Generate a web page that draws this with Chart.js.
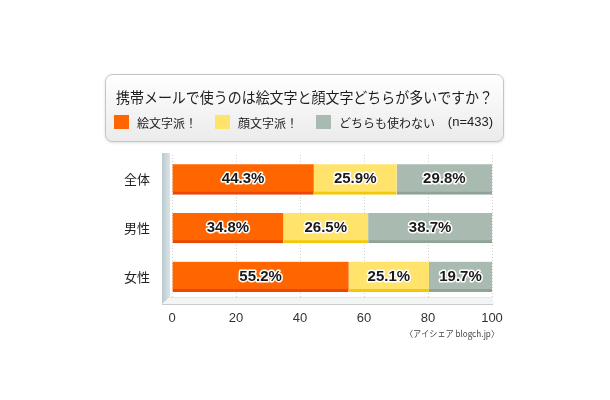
<!DOCTYPE html>
<html>
<head>
<meta charset="utf-8">
<script src="https://cdn.jsdelivr.net/npm/chart.js@4"></script>
<style>
  html, body { margin: 0; padding: 0; background: #fff; }
  #wrap { width: 610px; height: 400px; }
</style>
</head>
<body>
<div id="wrap"><canvas id="mailChart" width="610" height="400"></canvas></div>
<script>
const chartTitle = '携帯メールで使うのは絵文字と顔文字どちらが多いですか？';
const sampleNote = '(n=433)';
const sourceNote = '〈アイシェア blogch.jp〉';

const groups = ['全体', '男性', '女性'];
const seriesNames = ['絵文字派！', '顔文字派！', 'どちらも使わない'];
const emojiValues = [44.3, 34.8, 55.2];
const kaomojiValues = [25.9, 26.5, 25.1];
const neitherValues = [29.8, 38.7, 19.7];
const axisTicks = [0, 20, 40, 60, 80, 100];

const fills = ['#ff6600', '#ffe36b', '#a9bbb0'];
const edges = ['#e84800', '#f2c80a', '#8fa397'];

const JP = "'Noto Sans CJK JP', 'Noto Sans', sans-serif";
const LATIN = "'Liberation Sans', Arial, sans-serif";

// title box, title, legend and source line
const decoPlugin = {
    id: 'deco',
    beforeDraw(chart) {
        const c = chart.ctx;
        c.save();
        // rounded box with soft gradient
        const x = 105, y = 74, w = 399, h = 68, r = 7;
        c.shadowColor = 'rgba(0,0,0,0.12)';
        c.shadowBlur = 3;
        c.shadowOffsetY = 1;
        const g = c.createLinearGradient(0, y, 0, y + h);
        g.addColorStop(0, '#ffffff');
        g.addColorStop(1, '#ebebeb');
        c.fillStyle = g;
        c.beginPath();
        c.roundRect(x, y, w, h, r);
        c.fill();
        c.shadowColor = 'transparent';
        c.strokeStyle = '#c4c4c4';
        c.lineWidth = 1;
        c.beginPath();
        c.roundRect(x + 0.5, y + 0.5, w - 1, h - 1, r);
        c.stroke();

        // title
        c.fillStyle = '#1e1e1e';
        c.font = '15px ' + JP;
        c.textBaseline = 'middle';
        c.textAlign = 'left';
        c.fillText(chartTitle, 116, 97, 377);

        // legend
        c.font = '12px ' + JP;
        let lx = 114;
        chart.data.datasets.forEach((ds, i) => {
            c.fillStyle = ds.backgroundColor;
            c.fillRect(lx, 115, 15, 14);
            c.fillStyle = '#222';
            c.fillText(ds.label, lx + 23, 123);
            lx += 23 + c.measureText(ds.label).width + 18;
        });
        c.font = '13px ' + LATIN;
        c.textAlign = 'right';
        c.fillStyle = '#222';
        c.fillText(sampleNote, 493, 122);

        // source
        c.font = '9px ' + JP;
        c.fillStyle = '#444';
        c.fillText(sourceNote, 499, 334, 94);
        c.restore();
    },
    beforeDatasetsDraw(chart) {
        const c = chart.ctx;
        const a = chart.chartArea;
        c.save();
        // floor
        c.fillStyle = '#f3f5f5';
        c.beginPath();
        c.moveTo(a.left - 2, a.bottom - 4);
        c.lineTo(a.right, a.bottom - 4);
        c.lineTo(a.right + 2, a.bottom + 3);
        c.lineTo(a.left - 10, a.bottom + 3);
        c.closePath();
        c.fill();
        c.strokeStyle = '#c9cccc';
        c.lineWidth = 1;
        c.beginPath();
        c.moveTo(a.left - 10, a.bottom + 3.5);
        c.lineTo(a.right + 1, a.bottom + 3.5);
        c.stroke();
        c.strokeStyle = '#e2e6e6';
        c.beginPath();
        c.moveTo(a.left - 2, a.bottom - 3.5);
        c.lineTo(a.right, a.bottom - 3.5);
        c.stroke();
        // left wall
        const wg = c.createLinearGradient(a.left - 10, 0, a.left - 2, 0);
        wg.addColorStop(0, '#b9c9cf');
        wg.addColorStop(1, '#dbe4e7');
        c.fillStyle = wg;
        c.beginPath();
        c.moveTo(a.left - 10, a.top - 2);
        c.lineTo(a.left - 2, a.top - 2);
        c.lineTo(a.left - 2, a.bottom - 4);
        c.lineTo(a.left - 10, a.bottom + 3);
        c.closePath();
        c.fill();
        c.restore();
    },
    afterDatasetsDraw(chart) {
        const c = chart.ctx;
        c.save();
        c.font = 'bold 15px ' + LATIN;
        c.textAlign = 'center';
        c.textBaseline = 'middle';
        c.lineJoin = 'round';
        chart.data.datasets.forEach((ds, i) => {
            chart.getDatasetMeta(i).data.forEach((bar, j) => {
                const txt = ds.data[j].toFixed(1) + '%';
                const cx = (bar.x + bar.base) / 2;
                const cy = bar.y;
                c.strokeStyle = '#ffffff';
                c.lineWidth = 3;
                c.strokeText(txt, cx, cy);
                c.fillStyle = '#1a1a1a';
                c.fillText(txt, cx, cy);
            });
        });
        c.restore();
    }
};

const ctx = document.getElementById('mailChart').getContext('2d');
const chart = new Chart(ctx, {
    type: 'bar',
    data: {
        labels: groups,
        datasets: [emojiValues, kaomojiValues, neitherValues].map((vals, i) => ({
            label: seriesNames[i],
            data: vals,
            backgroundColor: fills[i],
            borderColor: edges[i],
            borderWidth: { top: 0, right: 0, bottom: 3, left: 0 },
            borderSkipped: false,
            barThickness: 30
        }))
    },
    options: {
        indexAxis: 'y',
        responsive: false,
        animation: false,
        layout: { padding: { top: 155, right: 118, bottom: 60, left: 0 } },
        plugins: {
            legend: { display: false },
            title: { display: false },
            tooltip: { enabled: false }
        },
        scales: {
            x: {
                stacked: true,
                min: 0,
                max: 100,
                afterBuildTicks: (s) => { s.ticks = axisTicks.map(v => ({ value: v })); },
                afterFit: (s) => { s.height = 39; },
                grid: { color: '#cfcfcf', borderDash: [1, 2], drawTicks: false },
                border: { display: false, dash: [1, 2] },
                ticks: { color: '#333', font: { family: LATIN, size: 13 }, padding: 10 }
            },
            y: {
                stacked: true,
                afterFit: (s) => { s.width = 172; },
                grid: { display: false, drawTicks: false },
                border: { display: false },
                ticks: { color: '#222', font: { family: JP, size: 13 }, padding: 22 }
            }
        }
    },
    plugins: [decoPlugin]
});
</script>
</body>
</html>
